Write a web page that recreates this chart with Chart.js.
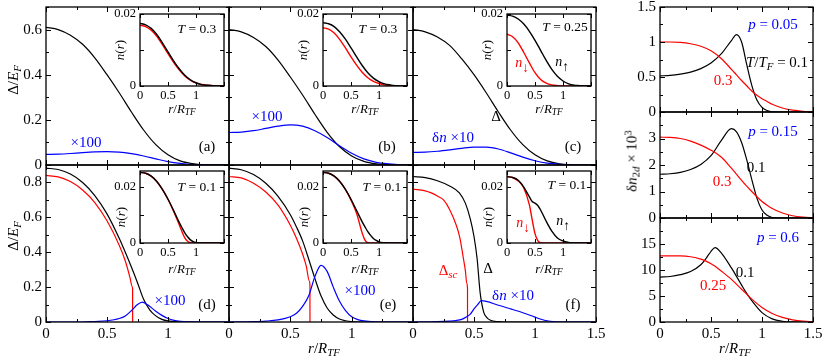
<!DOCTYPE html>
<html lang="en">
<head>
<meta charset="UTF-8" />
<title>Gap and density profiles</title>
<script src="https://cdn.jsdelivr.net/npm/chart.js@4"></script>
<style>
  body { margin: 0; background: #fff; }
  #fig { position: relative; width: 826px; height: 360px; overflow: hidden;
         font-family: 'Liberation Serif', 'Times New Roman', serif; }
  #fig canvas { position: absolute; }
  .t { position: absolute; transform: translate(-50%, -50%); white-space: nowrap;
       font-size: 15px; line-height: 1; color: #000; }
  .rot { transform: translate(-50%, -50%) rotate(-90deg); }
  sub { font-size: 72%; vertical-align: -0.3em; line-height: 0; }
  sup { font-size: 72%; vertical-align: 0.45em; line-height: 0; }
  sub.arr { font-size: 95%; vertical-align: -0.35em; }
</style>
</head>
<body>
<div id="fig"></div>

<script>
  // radial grids
  const rStd = [0,0.1,0.2,0.3,0.4,0.5,0.6,0.7,0.8,0.9,1.0,1.1,1.2,1.3,1.4,1.5];

  // top row: gap (black) and density difference (blue)
  const gapA = [0.61,0.60,0.575,0.535,0.475,0.40,0.32,0.235,0.155,0.09,0.045,0.018,0.006,0.001,0,0];
  const dnA  = [0.047,0.048,0.051,0.055,0.058,0.059,0.057,0.050,0.040,0.027,0.015,0.007,0.002,0.0005,0,0];
  const gapB = [0.60,0.59,0.565,0.525,0.465,0.39,0.31,0.225,0.145,0.082,0.04,0.016,0.005,0.001,0,0];
  const dnB  = [0.144,0.146,0.152,0.162,0.172,0.178,0.172,0.152,0.122,0.085,0.052,0.027,0.012,0.005,0.001,0];
  const gapC = [0.60,0.59,0.567,0.53,0.47,0.40,0.32,0.235,0.155,0.09,0.045,0.018,0.005,0.001,0,0];
  const dnC  = [0.056,0.057,0.061,0.067,0.074,0.079,0.079,0.071,0.054,0.035,0.019,0.008,0.003,0.001,0,0];

  // top row insets: n_up (black), n_down (red)
  const nUpA = [0.0174,0.0170,0.0160,0.0143,0.0120,0.0095,0.0070,0.0048,0.0030,0.0017,0.0009,0.0004,0.0002,0.0001,0,0];
  const nDnA = [0.0169,0.0165,0.0155,0.0138,0.0115,0.0090,0.0066,0.0045,0.0028,0.0016,0.0008,0.0004,0.0002,0.0001,0,0];
  const nUpB = [0.0176,0.0173,0.0165,0.0150,0.0130,0.0106,0.0081,0.0057,0.0037,0.0022,0.0012,0.0006,0.0003,0.0001,0,0];
  const nDnB = [0.0162,0.0158,0.0147,0.0129,0.0106,0.0081,0.0058,0.0038,0.0023,0.0013,0.0007,0.0003,0.0001,0,0,0];
  const nUpC = [0.0197,0.0194,0.0186,0.0172,0.0152,0.0127,0.0099,0.0071,0.0046,0.0027,0.0014,0.0006,0.0002,0.0001,0,0];
  const nDnC = [0.0144,0.0137,0.0120,0.0093,0.0064,0.0037,0.0018,0.0008,0.0003,0.0001,0,0,0,0,0,0];

  // bottom row (d)
  const rGapD = [0,0.1,0.2,0.3,0.4,0.5,0.6,0.65,0.7,0.75,0.8,0.85,0.9,0.95,1.0,1.1,1.2,1.5];
  const gapD  = [0.882,0.874,0.848,0.80,0.725,0.62,0.48,0.40,0.315,0.225,0.13,0.07,0.035,0.015,0.006,0.001,0,0];
  const rScD  = [0,0.1,0.2,0.3,0.4,0.5,0.6,0.65,0.69,0.705,0.7099,0.71];
  const scD   = [0.84,0.832,0.805,0.757,0.685,0.58,0.44,0.35,0.25,0.205,0.19,0];
  const rDnD  = [0,0.3,0.4,0.5,0.6,0.65,0.7,0.75,0.79,0.83,0.9,0.95,1.0,1.05,1.1,1.2,1.3,1.5];
  const dnD   = [0,0,0.003,0.007,0.02,0.035,0.065,0.1,0.114,0.1,0.062,0.038,0.02,0.009,0.004,0.001,0,0];

  // bottom row (e)
  const rGapE = [0,0.1,0.2,0.3,0.4,0.5,0.55,0.6,0.65,0.7,0.75,0.8,0.85,0.9,0.95,1.0,1.1,1.5];
  const gapE  = [0.882,0.873,0.845,0.795,0.72,0.615,0.545,0.465,0.36,0.25,0.15,0.08,0.04,0.017,0.007,0.002,0,0];
  const rScE  = [0,0.1,0.2,0.3,0.4,0.5,0.55,0.6,0.63,0.655,0.6599,0.66];
  const scE   = [0.834,0.826,0.795,0.745,0.67,0.555,0.48,0.39,0.32,0.235,0.21,0];
  const rDnE  = [0,0.2,0.3,0.4,0.5,0.55,0.6,0.65,0.7,0.75,0.8,0.85,0.9,0.95,1.0,1.05,1.1,1.2,1.3,1.5];
  const dnE   = [0,0.002,0.005,0.012,0.03,0.05,0.09,0.15,0.26,0.325,0.29,0.2,0.12,0.065,0.03,0.014,0.006,0.001,0,0];

  // bottom row (f)
  const rGapF = [0,0.1,0.2,0.3,0.38,0.43,0.47,0.5,0.526,0.55,0.58,0.6,0.635,0.7,0.75,1.5];
  const gapF  = [0.834,0.828,0.81,0.78,0.74,0.68,0.59,0.49,0.36,0.17,0.055,0.03,0.01,0.002,0,0];
  const rScF  = [0,0.1,0.15,0.2,0.25,0.3,0.357,0.385,0.41,0.43,0.44,0.4469,0.447];
  const scF   = [0.762,0.752,0.74,0.722,0.70,0.645,0.55,0.48,0.377,0.29,0.225,0.19,0];
  const rDnF  = [0,0.2,0.3,0.35,0.4,0.44,0.47,0.5,0.53,0.56,0.7,0.8,0.9,1.0,1.05,1.1,1.15,1.2,1.5];
  const dnF   = [0,0.002,0.005,0.008,0.015,0.03,0.045,0.075,0.1,0.122,0.096,0.075,0.053,0.028,0.016,0.007,0.002,0,0];

  // bottom row insets
  const rInB  = [0,0.1,0.2,0.3,0.4,0.5,0.6,0.7,0.75,0.8,0.85,0.9,0.95,1.0,1.1,1.2,1.5];
  const nUpD  = [0.025,0.0247,0.0237,0.0218,0.019,0.0155,0.0115,0.0073,0.0054,0.0036,0.0022,0.0011,0.0005,0.0002,0,0,0];
  const nDnD  = [0.025,0.0247,0.0237,0.0218,0.019,0.0155,0.0113,0.0065,0.004,0.0018,0.0006,0.0001,0,0,0,0,0];
  const nUpE  = [0.025,0.0247,0.0237,0.0218,0.019,0.0155,0.0115,0.0075,0.0057,0.004,0.0027,0.0016,0.0009,0.0004,0.0001,0,0];
  const nDnE  = [0.025,0.0247,0.0237,0.0218,0.019,0.0152,0.0105,0.0035,0.001,0.0001,0,0,0,0,0,0,0];
  const rInF  = [0,0.1,0.2,0.3,0.4,0.45,0.5,0.55,0.6,0.7,0.8,0.9,1.0,1.1,1.2,1.5];
  const nUpF  = [0.0235,0.0232,0.0222,0.0198,0.0163,0.0147,0.0141,0.0133,0.0117,0.0077,0.0042,0.0018,0.0007,0.0002,0,0];
  const nDnF  = [0.0235,0.0232,0.022,0.0195,0.0135,0.0082,0.0033,0.0008,0.0001,0,0,0,0,0,0,0];

  // right column: delta n_2d x 10^3
  const rR    = [0,0.1,0.2,0.3,0.4,0.5,0.6,0.7,0.75,0.8,0.85,0.9,0.95,1.0,1.05,1.1,1.2,1.3,1.4,1.5];
  const p05lo = [0.517,0.522,0.54,0.57,0.62,0.70,0.83,1.02,1.105,1.0,0.68,0.38,0.17,0.065,0.02,0.003,0,0,0,0];
  const p05hi = [1.0,1.0,0.995,0.975,0.94,0.875,0.765,0.61,0.53,0.45,0.375,0.30,0.24,0.19,0.15,0.11,0.057,0.026,0.01,0.004];
  const p15lo = [1.65,1.67,1.72,1.83,2.02,2.35,2.92,3.37,3.25,2.85,2.2,1.45,0.75,0.3,0.1,0.02,0,0,0,0];
  const p15hi = [3.05,3.04,3.0,2.9,2.75,2.56,2.3,1.88,1.65,1.42,1.2,1.0,0.8,0.62,0.48,0.36,0.19,0.085,0.035,0.012];
  const rR3   = [0,0.1,0.2,0.3,0.4,0.45,0.5,0.54,0.6,0.7,0.8,0.85,0.9,1.0,1.1,1.2,1.3,1.4,1.5];
  const p60lo = [8.64,8.75,9.1,9.7,11.0,12.2,13.6,14.3,13.3,10.4,7.1,5.5,4.1,1.8,0.6,0.15,0.02,0,0];
  const p60hi = [12.7,12.7,12.7,12.55,12.1,11.7,11.2,10.7,9.8,8.2,6.3,5.35,4.4,2.8,1.65,0.9,0.42,0.16,0.05];

  // ticks
  const xTicks   = [0,0.25,0.5,0.75,1,1.25,1.5];
  const xMajor   = [0,0.5,1,1.5];
  const gapTopTicks = [0,0.1,0.2,0.3,0.4,0.5,0.6,0.7];
  const gapBotTicks = [0,0.1,0.2,0.3,0.4,0.5,0.6,0.7,0.8,0.9];
  const gapMajor = [0,0.2,0.4,0.6,0.8];
  const nTicks   = [0,0.01,0.02];
  const nLabels  = [0,0.02];
  const inXLabels = [0,0.5,1];

  const BLACK = '#000000', RED = '#ff0000', BLUE = '#0000ff';

  Chart.defaults.font.family = "'Liberation Serif', 'Times New Roman', serif";
  Chart.defaults.color = '#000';

  const fig = document.getElementById('fig');

  // inward ticks on all four sides plus the frame
  Chart.register({
    id: 'frameTicks',
    beforeDatasetsDraw(chart) {
      const cfg = chart.canvas.tickCfg;
      const a = chart.chartArea;
      if (cfg.fill) {
        chart.ctx.save();
        chart.ctx.fillStyle = '#fff';
        chart.ctx.fillRect(a.left, a.top, a.right - a.left, a.bottom - a.top);
        chart.ctx.restore();
      }
    },
    afterDatasetsDraw(chart) {
      const cfg = chart.canvas.tickCfg;
      const { ctx, chartArea: a } = chart;
      const sx = chart.scales.x, sy = chart.scales.y;
      ctx.save();
      ctx.strokeStyle = '#000';
      ctx.lineWidth = 1;
      ctx.beginPath();
      sx.ticks.forEach(t => {
        const p = Math.round(sx.getPixelForValue(t.value)) + 0.5;
        const l = cfg.xMajor.includes(t.value) ? cfg.major : cfg.minor;
        ctx.moveTo(p, a.bottom); ctx.lineTo(p, a.bottom - l);
        ctx.moveTo(p, a.top); ctx.lineTo(p, a.top + l);
      });
      sy.ticks.forEach(t => {
        const p = Math.round(sy.getPixelForValue(t.value)) + 0.5;
        const l = cfg.yMajor.includes(t.value) ? cfg.major : cfg.minor;
        ctx.moveTo(a.left, p); ctx.lineTo(a.left + l, p);
        ctx.moveTo(a.right, p); ctx.lineTo(a.right - l, p);
      });
      ctx.stroke();
      ctx.lineWidth = 1.3;
      ctx.strokeRect(a.left, a.top, a.right - a.left, a.bottom - a.top);
      ctx.restore();
    }
  });

  function axis(range, ticks, labels, fs, size, horiz, pad) {
    return {
      type: 'linear', min: range[0], max: range[1],
      grid: { display: false, drawTicks: false },
      border: { display: false },
      afterBuildTicks: s => { s.ticks = ticks.map(v => ({ value: v })); },
      afterFit: s => {
        if (horiz) s.height = size; else s.width = size;
        s.paddingLeft = 0; s.paddingRight = 0; s.paddingTop = 0; s.paddingBottom = 0;
      },
      ticks: {
        autoSkip: false, maxRotation: 0, minRotation: 0, padding: pad,
        color: '#000', font: { size: fs },
        callback: v => labels.includes(v) ? String(v) : ''
      }
    };
  }

  function line(r, v, c) { return { r, v, c }; }

  function panel(box, p) {
    const pad = p.pad;
    const cv = document.createElement('canvas');
    cv.width = box.w + pad.l + pad.r;
    cv.height = box.h + pad.t + pad.b;
    cv.style.left = (box.x - pad.l) + 'px';
    cv.style.top = (box.y - pad.t) + 'px';
    cv.tickCfg = { xMajor: p.xMajor, yMajor: p.yMajor, major: p.major, minor: p.minor, fill: !!p.fill };
    fig.appendChild(cv);
    new Chart(cv, {
      type: 'line',
      data: {
        datasets: p.series.map(s => ({
          data: s.r.map((r, i) => ({ x: r, y: s.v[i] })),
          borderColor: s.c, borderWidth: p.lw, pointRadius: 0, fill: false,
          cubicInterpolationMode: 'monotone'
        }))
      },
      options: {
        responsive: false, animation: false, events: [],
        layout: { autoPadding: false, padding: { left: 0, top: pad.t, right: pad.r, bottom: 0 } },
        plugins: { legend: { display: false }, tooltip: { enabled: false } },
        scales: {
          x: axis([0, 1.5], p.xTicks, p.xLabels, p.fs, pad.b, true, p.fs > 14 ? 3 : 2),
          y: axis(p.yRange, p.yTicks, p.yLabels, p.fs, pad.l, false, 4)
        }
      }
    });
  }

  const mainPad = { l: 44, t: 10, r: 12, b: 26 };
  const insetPad = { l: 30, t: 8, r: 6, b: 18 };

  function mainPanel(box, yRange, yTicks, xLabels, yLabels, series) {
    panel(box, { pad: mainPad, fs: 15, lw: 1.2, major: 5, minor: 3,
      xTicks, xMajor, xLabels, yRange, yTicks, yMajor: gapMajor, yLabels, series });
  }
  function inset(box, yMax, series) {
    panel(box, { pad: insetPad, fs: 12.5, lw: 1.4, major: 4, minor: 2, fill: true,
      xTicks: [0,0.5,1,1.5], xMajor, xLabels: inXLabels, yRange: [0, yMax],
      yTicks: nTicks, yMajor: nTicks, yLabels: nLabels, series });
  }

  const cols = [46, 229, 413];
  const colW = [183, 184, 183];

  // top row
  mainPanel({ x: cols[0], y: 7, w: colW[0], h: 158 }, [0, 0.7], gapTopTicks, [], [0,0.2,0.4,0.6],
    [line(rStd, dnA, BLUE), line(rStd, gapA, BLACK)]);
  mainPanel({ x: cols[1], y: 7, w: colW[1], h: 158 }, [0, 0.7], gapTopTicks, [], [],
    [line(rStd, dnB, BLUE), line(rStd, gapB, BLACK)]);
  mainPanel({ x: cols[2], y: 7, w: colW[2], h: 158 }, [0, 0.7], gapTopTicks, [], [],
    [line(rStd, dnC, BLUE), line(rStd, gapC, BLACK)]);

  // bottom row
  mainPanel({ x: cols[0], y: 165, w: colW[0], h: 157 }, [0, 0.9], gapBotTicks, [0,0.5,1], [0,0.2,0.4,0.6,0.8],
    [line(rDnD, dnD, BLUE), line(rGapD, gapD, BLACK), line(rScD, scD, RED)]);
  mainPanel({ x: cols[1], y: 165, w: colW[1], h: 157 }, [0, 0.9], gapBotTicks, [0,0.5,1], [],
    [line(rDnE, dnE, BLUE), line(rGapE, gapE, BLACK), line(rScE, scE, RED)]);
  mainPanel({ x: cols[2], y: 165, w: colW[2], h: 157 }, [0, 0.9], gapBotTicks, [0,0.5,1,1.5], [],
    [line(rDnF, dnF, BLUE), line(rGapF, gapF, BLACK), line(rScF, scF, RED)]);

  // right column
  const rightBox = { x: 660, w: 153 };
  panel({ x: rightBox.x, y: 7, w: rightBox.w, h: 105 }, { pad: mainPad, fs: 15, lw: 1.2, major: 5, minor: 3,
    xTicks, xMajor, xLabels: [], yRange: [0, 1.5], yTicks: [0,0.25,0.5,0.75,1,1.25,1.5],
    yMajor: [0,0.5,1,1.5], yLabels: [0,0.5,1,1.5], series: [line(rR, p05hi, RED), line(rR, p05lo, BLACK)] });
  panel({ x: rightBox.x, y: 112, w: rightBox.w, h: 106 }, { pad: mainPad, fs: 15, lw: 1.2, major: 5, minor: 3,
    xTicks, xMajor, xLabels: [], yRange: [0, 4], yTicks: [0,0.5,1,1.5,2,2.5,3,3.5,4],
    yMajor: [0,1,2,3,4], yLabels: [0,1,2,3], series: [line(rR, p15hi, RED), line(rR, p15lo, BLACK)] });
  panel({ x: rightBox.x, y: 218, w: rightBox.w, h: 104 }, { pad: mainPad, fs: 15, lw: 1.2, major: 5, minor: 3,
    xTicks, xMajor, xLabels: [0,0.5,1,1.5], yRange: [0, 20], yTicks: [0,2.5,5,7.5,10,12.5,15,17.5,20],
    yMajor: [0,5,10,15,20], yLabels: [0,5,10,15], series: [line(rR3, p60hi, RED), line(rR3, p60lo, BLACK)] });

  // insets
  inset({ x: cols[0] + 94, y: 14, w: 84, h: 72 }, 0.02, [line(rStd, nUpA, BLACK), line(rStd, nDnA, RED)]);
  inset({ x: cols[1] + 94, y: 14, w: 84, h: 72 }, 0.02, [line(rStd, nUpB, BLACK), line(rStd, nDnB, RED)]);
  inset({ x: cols[2] + 94, y: 14, w: 84, h: 72 }, 0.02, [line(rStd, nUpC, BLACK), line(rStd, nDnC, RED)]);
  inset({ x: cols[0] + 94, y: 171, w: 84, h: 72 }, 0.0255, [line(rInB, nUpD, BLACK), line(rInB, nDnD, RED)]);
  inset({ x: cols[1] + 94, y: 171, w: 84, h: 72 }, 0.0255, [line(rInB, nUpE, BLACK), line(rInB, nDnE, RED)]);
  inset({ x: cols[2] + 94, y: 171, w: 84, h: 72 }, 0.0255, [line(rInF, nUpF, BLACK), line(rInF, nDnF, RED)]);

  // text
  function label(x, y, html, color, size, rot) {
    const d = document.createElement('div');
    d.className = 't' + (rot ? ' rot' : '');
    d.style.left = x + 'px';
    d.style.top = y + 'px';
    if (color) d.style.color = color;
    if (size) d.style.fontSize = size + 'px';
    d.innerHTML = html;
    fig.appendChild(d);
  }
  const rRtf = '<i>r</i>/<i>R</i><sub><i>TF</i></sub>';
  const nOfR = '<i>n</i>(<i>r</i>)';
  const nUp = '<i>n</i><sub class="arr">&uarr;</sub>';
  const nDn = '<i>n</i><sub class="arr">&darr;</sub>';

  label(13, 80, '&Delta;/<i>E</i><sub><i>F</i></sub>', null, 15, true);
  label(13, 236, '&Delta;/<i>E</i><sub><i>F</i></sub>', null, 15, true);
  label(324, 348, rRtf, null, 15);
  label(735, 348, rRtf, null, 15);
  label(632, 161, '&delta;<i>n</i><sub>2<i>d</i></sub> &times; 10<sup>3</sup>', null, 15, true);

  label(86, 142, '&times;100', BLUE, 15);
  label(267, 116, '&times;100', BLUE, 15);
  label(496, 116, '&Delta;', null, 15);
  label(453, 137, '&delta;<i>n</i> &times;10', BLUE, 15);
  label(170, 300, '&times;100', BLUE, 15);
  label(360, 290, '&times;100', BLUE, 15);
  label(448, 270, '&Delta;<sub><i>sc</i></sub>', RED, 15);
  label(488, 268, '&Delta;', null, 15);
  label(513, 295, '&delta;<i>n</i> &times;10', BLUE, 15);

  label(207, 146, '(a)', null, 15);
  label(387, 146, '(b)', null, 15);
  label(573, 146, '(c)', null, 15);
  label(207, 304, '(d)', null, 15);
  label(388, 304, '(e)', null, 15);
  label(573, 304, '(f)', null, 15);

  label(773, 24, '<i>p</i> = 0.05', BLUE, 15);
  label(777, 62, '<i>T</i>/<i>T</i><sub><i>F</i></sub> = 0.1', null, 15);
  label(723, 80, '0.3', RED, 15);
  label(773, 131, '<i>p</i> = 0.15', BLUE, 15);
  label(756, 167, '0.1', null, 15);
  label(722, 181, '0.3', RED, 15);
  label(778, 237, '<i>p</i> = 0.6', BLUE, 15);
  label(745, 272, '0.1', null, 15);
  label(713, 285, '0.25', RED, 15);

  // inset texts
  cols.forEach(c => {
    const il = c + 94;
    label(il - 21, 50, nOfR, null, 13, true);
    label(il + 42, 108, rRtf, null, 13);
    label(il - 20, 217, nOfR, null, 13, true);
    label(il + 42, 268, rRtf, null, 13);
  });
  label(197, 29, '<i>T</i> = 0.3', null, 13.5);
  label(378, 29, '<i>T</i> = 0.3', null, 13.5);
  label(565, 27, '<i>T</i> = 0.25', null, 13.5);
  label(197, 187, '<i>T</i> = 0.1', null, 13.5);
  label(382, 187, '<i>T</i> = 0.1', null, 13.5);
  label(567, 185, '<i>T</i> = 0.1', null, 13.5);
  label(562, 62, nUp, null, 14);
  label(522, 63, nDn, RED, 14);
  label(523, 223, nDn, RED, 14);
  label(563, 221, nUp, null, 14);
</script>
</body>
</html>
